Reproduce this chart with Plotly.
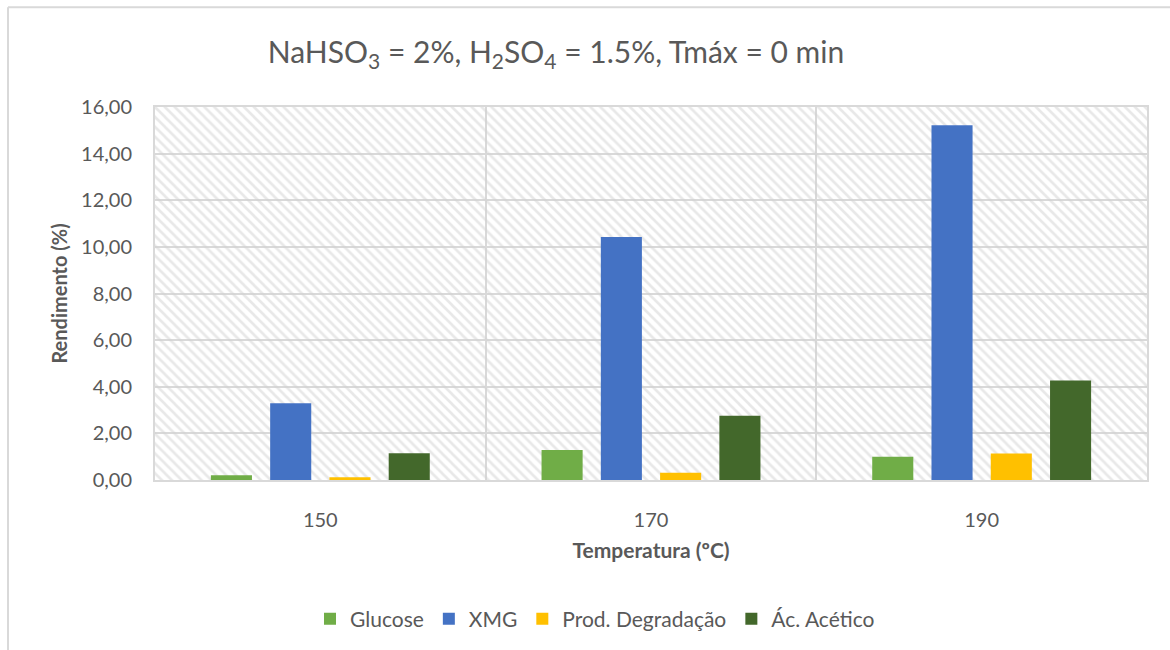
import plotly.graph_objects as go

categories = ["150", "170", "190"]
series_names = ["Glucose", "XMG", "Prod. Degradação", "Ác. Acético"]
glucose = [0.20, 1.29, 1.00]
xmg = [3.29, 10.42, 15.22]
prod_degradacao = [0.12, 0.31, 1.14]
ac_acetico = [1.15, 2.76, 4.27]
colors = ["#70AD47", "#4472C4", "#FFC000", "#43682B"]
y_ticks = [0, 2, 4, 6, 8, 10, 12, 14, 16]
y_ticktext = ["0,00", "2,00", "4,00", "6,00", "8,00", "10,00", "12,00", "14,00", "16,00"]

FONT = "Lato"
GRAY = "#595959"
GRID = "#d9d9d9"

fig = go.Figure()

# hatched plot-area background (on the main, hidden axis so it sits under the bars)
fig.add_trace(go.Bar(
    x=[0.5], y=[16], width=[1], xaxis="x", yaxis="y",
    marker=dict(color="rgba(0,0,0,0)", line=dict(width=0),
                pattern=dict(shape="\\", size=7, solidity=0.38,
                             fgcolor="#d2d2d2", bgcolor="rgba(0,0,0,0)", fillmode="overlay")),
    showlegend=False, hoverinfo="skip",
))

for name, vals, col in zip(series_names, [glucose, xmg, prod_degradacao, ac_acetico], colors):
    fig.add_trace(go.Bar(
        x=categories, y=vals, name=name, xaxis="x2", yaxis="y",
        marker=dict(color=col, line=dict(width=0)),
    ))

fig.update_layout(
    width=1170, height=650,
    margin=dict(l=155, r=23, t=107, b=169),
    paper_bgcolor="white", plot_bgcolor="white",
    barmode="group", bargap=0.283, bargroupgap=0.307,
    font=dict(family=FONT, color=GRAY, size=20),
    title=dict(text="NaHSO<sub>3</sub> = 2%, H<sub>2</sub>SO<sub>4</sub> = 1.5%, Tmáx = 0 min",
               x=556/1170, xanchor="center", y=1-52/650, yanchor="middle",
               font=dict(family=FONT, size=30, color=GRAY)),
    xaxis=dict(range=[0, 1], visible=False, fixedrange=True),
    xaxis2=dict(overlaying="x", type="category", side="bottom",
                tickson="boundaries", ticks="", showgrid=True, gridcolor=GRID, gridwidth=2,
                showline=True, linecolor=GRID, linewidth=2, mirror=True,
                ticklabelstandoff=21,
                tickfont=dict(size=20, color=GRAY),
                title=dict(text="<b>Temperatura (ºC)</b>", font=dict(size=21, color=GRAY), standoff=13)),
    yaxis=dict(range=[0, 16], tickvals=y_ticks, ticktext=y_ticktext,
               showgrid=True, gridcolor=GRID, gridwidth=2,
               showline=True, linecolor=GRID, linewidth=2, mirror=True, zeroline=False,
               ticks="", ticklen=0, ticklabelstandoff=17, tickfont=dict(size=20, color=GRAY),
               title=dict(text="<b>Rendimento (%)</b>", font=dict(size=20, color=GRAY), standoff=8)),
    legend=dict(orientation="h", x=(595-155)/992, xanchor="center", y=-(619-481)/374, yanchor="middle",
                font=dict(size=21, color=GRAY), itemwidth=30, traceorder="normal"),
    shapes=[
        dict(type="line", xref="paper", yref="paper", x0=-(155-8)/992, x1=(1175-155)/992,
             y0=1+(107-7)/374, y1=1+(107-7)/374, line=dict(color=GRID, width=2)),
        dict(type="line", xref="paper", yref="paper", x0=-(155-8)/992, x1=-(155-8)/992,
             y0=1+(107-7)/374, y1=-(655-481)/374, line=dict(color=GRID, width=2)),
    ],
)

fig.write_html("out.html")
